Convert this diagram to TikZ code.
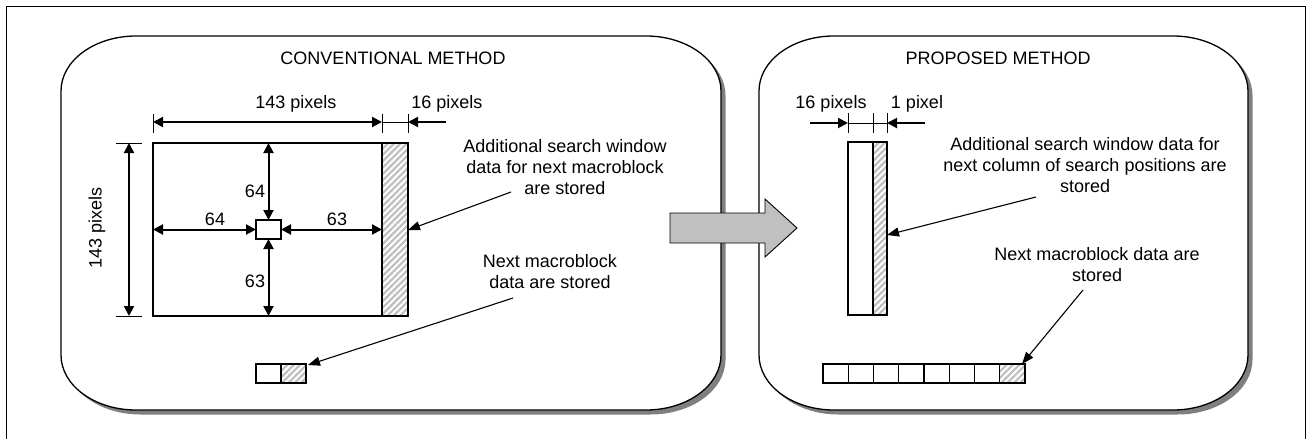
\documentclass[tikz,border=0pt]{standalone}
\usepackage{fontspec}
\setmainfont{Liberation Sans}
\usetikzlibrary{arrows.meta,patterns.meta}

\definecolor{hatchgray}{HTML}{C0C0C0}
\definecolor{shadowgray}{HTML}{7F7F7F}
\definecolor{arrowgray}{HTML}{C0C0C0}

% rounded panel outline with elliptical corners: x1 y1 x2 y2
\newcommand\rpanel[4]{%
  (#1,#2+55) .. controls (#1,#2+24.6) and (#1+33.6,#2) .. (#1+75,#2)
  -- (#3-75,#2) .. controls (#3-33.6,#2) and (#3,#2+24.6) .. (#3,#2+55)
  -- (#3,#4-55) .. controls (#3,#4-24.6) and (#3-33.6,#4) .. (#3-75,#4)
  -- (#1+75,#4) .. controls (#1+33.6,#4) and (#1,#4-24.6) .. (#1,#4-55) -- cycle}

\tikzset{
  txt/.style={font=\fontsize{18pt}{21pt}\selectfont, inner sep=0pt, align=center},
  dimline/.style={line width=2pt, {Triangle[length=10pt,width=10pt]}-{Triangle[length=10pt,width=10pt]}},
  dimin/.style={line width=2pt, -{Triangle[length=10pt,width=10pt]}},
  tick/.style={line width=1pt},
  thinlink/.style={line width=0.8pt},
  leader/.style={line width=1.1pt, -{Triangle[length=12pt,width=9pt]}},
  box/.style={draw=black, line width=1.3pt},
  hatch/.style={pattern={Lines[angle=45,distance=4.5pt,line width=2pt]}, pattern color=white},
}

\begin{document}
\begin{tikzpicture}[x=1pt,y=-1pt]
\useasboundingbox (0,0) rectangle (1308,439);

% outer frame (its lower edge lies below the page)
\draw[line width=1pt] (6,439) -- (6,6) -- (1305,6) -- (1305,439);

% panels with drop shadow
\fill[shadowgray, xshift=4.5pt, yshift=-4.5pt] \rpanel{61}{36}{721}{410};
\fill[shadowgray, xshift=4.5pt, yshift=-4.5pt] \rpanel{759}{36}{1248}{410};
\filldraw[fill=white, draw=black, line width=1.3pt] \rpanel{61}{36}{721}{410};
\filldraw[fill=white, draw=black, line width=1.3pt] \rpanel{759}{36}{1248}{410};

% block arrow between the panels
\filldraw[fill=arrowgray, draw=black, line width=0.9pt]
  (670,213) -- (765,213) -- (765,199) -- (797,228) -- (765,257) -- (765,243) -- (670,243) -- cycle;

% ---------------- conventional method ----------------
\node[txt, anchor=base] (convtitle) at (393,64) {CONVENTIONAL METHOD};

% search window and additional column
\draw[box] (153,143) rectangle (382,316);
\fill[hatchgray] (382,143) rectangle (408,316);
\fill[hatch] (382,143) rectangle (408,316);
\draw[box] (382,143) rectangle (408,316);

% current macroblock
\draw[box, fill=white] (256,220) rectangle (281,239);

\coordinate (wtop) at (268.5,143);
\coordinate (wbot) at (268.5,316);
\coordinate (wleft) at (153,229.5);
\coordinate (wright) at (382,229.5);
\coordinate (mbtop) at (268.5,220);
\coordinate (mbbot) at (268.5,239);
\coordinate (mbleft) at (256,229.5);
\coordinate (mbright) at (281,229.5);
\draw[dimline] (wtop) -- (mbtop);
\draw[dimline] (mbbot) -- (wbot);
\draw[dimline] (wleft) -- (mbleft);
\draw[dimline] (mbright) -- (wright);
\node[txt, anchor=base] (lup) at (255,197) {64};
\node[txt, anchor=base] (lleft) at (215,225) {64};
\node[txt, anchor=base] (lright) at (337,225) {63};
\node[txt, anchor=base] (ldown) at (255,287) {63};

% horizontal dimensions above the window
\draw[tick] (153,114) -- (153,133);
\draw[tick] (382,114) -- (382,133);
\draw[tick] (408,114) -- (408,133);
\coordinate (dA) at (153,122);
\coordinate (dB) at (382,122);
\coordinate (dC) at (408,122);
\coordinate (dD) at (446,122);
\draw[dimline] (dA) -- (dB);
\draw[thinlink] (dB) -- (dC);
\draw[dimin] (dD) -- (dC);
\node[txt, anchor=base] (w143) at (296,108) {143 pixels};
\node[txt, anchor=base] (w16) at (447,108) {16 pixels};

% vertical dimension
\draw[tick] (116,143) -- (142,143);
\draw[tick] (116,316) -- (142,316);
\coordinate (vA) at (129,143);
\coordinate (vB) at (129,316);
\draw[dimline] (vA) -- (vB);
\node[txt, rotate=90] (h143) at (97,228) {143 pixels};

% annotations (base anchor = baseline of the last line)
\node[txt, anchor=base] (addL) at (565,194) {Additional search window\\data for next macroblock\\are stored};
\coordinate (addLfoot) at (511,192);
\coordinate (addLtip) at (408,230);
\draw[leader] (addLfoot) -- (addLtip);

\draw[box] (256,364) rectangle (281,383);
\fill[hatchgray] (281,364) rectangle (306,383);
\fill[hatch] (281,364) rectangle (306,383);
\draw[box] (281,364) rectangle (306,383);

\node[txt, anchor=base] (nextL) at (550,288) {Next macroblock\\data are stored};
\coordinate (nextLfoot) at (513,298);
\coordinate (nextLtip) at (308,365);
\draw[leader] (nextLfoot) -- (nextLtip);

% ---------------- proposed method ----------------
\node[txt, anchor=base] (proptitle) at (998,64) {PROPOSED METHOD};

\draw[box] (848,142) rectangle (873,315);
\fill[hatchgray] (873,142) rectangle (887,315);
\fill[hatch] (873,142) rectangle (887,315);
\draw[box] (873,142) rectangle (887,315);

\draw[tick] (848,113) -- (848,133);
\draw[tick] (873,113) -- (873,133);
\draw[tick] (887,113) -- (887,133);
\coordinate (pA) at (810,123);
\coordinate (pB) at (848,123);
\coordinate (pC) at (887,123);
\coordinate (pD) at (925,123);
\draw[dimin] (pA) -- (pB);
\draw[thinlink] (pB) -- (pC);
\draw[dimin] (pD) -- (pC);
\node[txt, anchor=base] (p16) at (831,108) {16 pixels};
\node[txt, anchor=base] (p1) at (917,108) {1 pixel};

\node[txt, anchor=base] (addR) at (1085,192) {Additional search window data for\\next column of search positions are\\stored};
\coordinate (addRfoot) at (1036,197);
\coordinate (addRtip) at (887,235);
\draw[leader] (addRfoot) -- (addRtip);

% row of macroblocks, the last one newly loaded
\foreach \i in {0,...,6}
  \draw[box] ({823+25.25*\i},364) rectangle ({823+25.25*(\i+1)},383);
\fill[hatchgray] (999.75,364) rectangle (1025,383);
\fill[hatch] (999.75,364) rectangle (1025,383);
\draw[box] (999.75,364) rectangle (1025,383);

\node[txt, anchor=base] (nextR) at (1097,281) {Next macroblock data are\\stored};
\coordinate (nextRfoot) at (1083,290);
\coordinate (nextRtip) at (1022,364);
\draw[leader] (nextRfoot) -- (nextRtip);
\end{tikzpicture}
\end{document}
